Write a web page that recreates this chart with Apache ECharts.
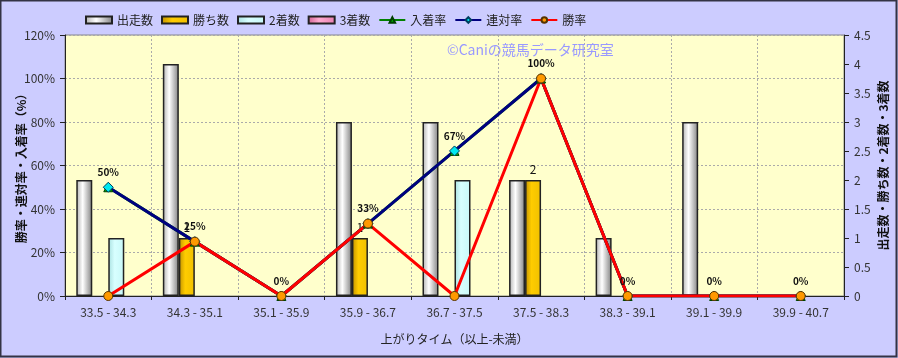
<!DOCTYPE html>
<html><head><meta charset="utf-8">
<script src="https://cdn.jsdelivr.net/npm/echarts@6/dist/echarts.min.js"></script>
<style>html,body{margin:0;padding:0;background:#CCCCFF;}#c{width:898px;height:358px;}</style>
</head><body><div id="c"></div>
<script>
const categories = ['33.5 - 34.3','34.3 - 35.1','35.1 - 35.9','35.9 - 36.7','36.7 - 37.5','37.5 - 38.3','38.3 - 39.1','39.1 - 39.9','39.9 - 40.7'];
const runs = [2, 4, 0, 3, 3, 2, 1, 3, 0];
const wins = [0, 1, 0, 1, 0, 2, 0, 0, 0];
const seconds = [1, 0, 0, 0, 2, 0, 0, 0, 0];
const thirds = [0, 0, 0, 0, 0, 0, 0, 0, 0];
const placeRate = [50, 25, 0, 33.3, 66.7, 100, 0, 0, 0];
const rentaiRate = [50, 25, 0, 33.3, 66.7, 100, 0, 0, 0];
const winRate = [0, 25, 0, 33.3, 0, 100, 0, 0, 0];
const leftTicks = {min: 0, max: 120, interval: 20};
const rightTicks = {min: 0, max: 4.5, interval: 0.5};

const hideZero = arr => arr.map(v => v === 0 ? null : v);
const G = echarts.graphic.LinearGradient;
const grad = (a, b, c) => new G(0, 0, 1, 0, [{offset: 0, color: a}, {offset: 0.4, color: b}, {offset: 1, color: c}]);
const font = '"Noto Sans CJK JP", "Noto Sans", sans-serif';
const chart = echarts.init(document.getElementById('c'));
const barStyle = (c) => ({color: c, borderColor: '#222', borderWidth: 1.5});
chart.setOption({
  backgroundColor: '#CCCCFF',
  textStyle: {fontFamily: font},
  animation: false,
  graphic: [
    {type: 'rect', shape: {x: 0.5, y: 0.5, width: 896, height: 356}, style: {fill: 'none', stroke: '#333344', lineWidth: 2}, z: 100},
    {type: 'text', left: 447, top: 43, style: {text: '©Caniの競馬データ研究室', fill: '#9999FF', font: '14px ' + font}, z: 50}
  ],
  legend: {
    left: 80, top: 9, itemWidth: 26, itemHeight: 7, itemGap: 8,
    textStyle: {fontSize: 12, color: '#222', fontFamily: font},
    data: [{name: '出走数', icon: 'rect'}, {name: '勝ち数', icon: 'rect'}, {name: '2着数', icon: 'rect'}, {name: '3着数', icon: 'rect'}, '入着率', '連対率', '勝率']
  },
  grid: {left: 65, right: 54, top: 35, bottom: 62, outerBoundsMode: 'none', containLabel: false,
    show: true, backgroundColor: '#FFFFCC', borderColor: '#888', borderWidth: 1},
  xAxis: {
    type: 'category', data: categories,
    name: '上がりタイム（以上-未満）', nameLocation: 'middle', nameGap: 37, nameMoveOverlap: false,
    nameTextStyle: {fontSize: 12, color: '#222'},
    axisLine: {lineStyle: {color: '#222'}},
    axisTick: {show: true, length: 4, lineStyle: {color: '#222'}},
    axisLabel: {fontSize: 12, color: '#333', margin: 10},
    splitLine: {show: true, lineStyle: {color: '#aaa', type: [2, 2]}}
  },
  yAxis: [
    {
      type: 'value', min: leftTicks.min, max: leftTicks.max, interval: leftTicks.interval,
      name: '勝率・連対率・入着率（%）', nameLocation: 'middle', nameGap: 38, nameRotate: 90, nameMoveOverlap: false,
      nameTextStyle: {fontSize: 12, color: '#111', fontWeight: 'bold'},
      axisLine: {show: true, lineStyle: {color: '#222'}},
      axisTick: {show: true, length: 5, lineStyle: {color: '#222'}},
      axisLabel: {formatter: '{value}%', fontSize: 12, color: '#333', margin: 10},
      splitLine: {show: true, lineStyle: {color: '#aaa', type: [2, 2]}}
    },
    {
      type: 'value', min: rightTicks.min, max: rightTicks.max, interval: rightTicks.interval, position: 'right',
      name: '出走数・勝ち数・2着数・3着数', nameLocation: 'middle', nameGap: 33, nameRotate: 90, nameMoveOverlap: false,
      nameTextStyle: {fontSize: 12, color: '#111', fontWeight: 'bold'},
      axisLine: {show: true, lineStyle: {color: '#222'}},
      axisTick: {show: true, length: 5, lineStyle: {color: '#222'}},
      axisLabel: {fontSize: 12, color: '#333', margin: 10},
      splitLine: {show: false}
    }
  ],
  series: [
    {name: '出走数', type: 'bar', yAxisIndex: 1, data: hideZero(runs), barWidth: 16, barGap: '0%',
      itemStyle: barStyle(grad('#b0b0b0', '#ffffff', '#808080'))},
    {name: '勝ち数', type: 'bar', yAxisIndex: 1, data: hideZero(wins), barWidth: 16, barGap: '0%',
      itemStyle: barStyle(grad('#c09000', '#ffcc00', '#f0c000')),
      label: {show: true, position: 'top', fontSize: 12, color: '#111'}},
    {name: '2着数', type: 'bar', yAxisIndex: 1, data: hideZero(seconds), barWidth: 16, barGap: '0%',
      itemStyle: barStyle(grad('#a8e0e0', '#d8ffff', '#c8f8f8'))},
    {name: '3着数', type: 'bar', yAxisIndex: 1, data: hideZero(thirds), barWidth: 16, barGap: '0%',
      itemStyle: barStyle(grad('#d06090', '#ffaad0', '#e880b0'))},
    {name: '入着率', type: 'line', yAxisIndex: 0, data: placeRate, symbol: 'triangle', symbolSize: 9,
      lineStyle: {color: '#008000', width: 3}, itemStyle: {color: '#00b000', borderColor: '#004000', borderWidth: 1},
      label: {show: true, position: 'top', fontSize: 10, fontWeight: 'bold', color: '#111', formatter: p => Math.round(p.value) + '%'}},
    {name: '連対率', type: 'line', yAxisIndex: 0, data: rentaiRate, symbol: 'diamond', symbolSize: 10,
      lineStyle: {color: '#000080', width: 3}, itemStyle: {color: '#00e8f0', borderColor: '#004060', borderWidth: 1}},
    {name: '勝率', type: 'line', yAxisIndex: 0, data: winRate, symbol: 'circle', symbolSize: 9,
      lineStyle: {color: '#ff0000', width: 3}, itemStyle: {color: '#ff9900', borderColor: '#553300', borderWidth: 1}}
  ]
});
</script></body></html>
